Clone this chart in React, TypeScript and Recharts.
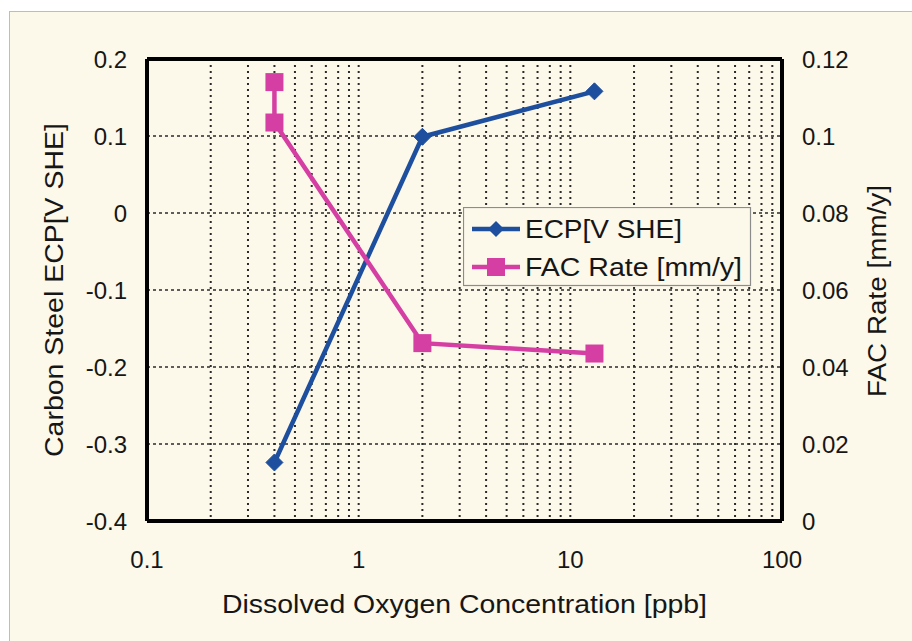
import React from 'react';
import { ComposedChart, Line, XAxis, YAxis, CartesianGrid, ReferenceLine, Legend } from 'recharts';

// ---- data ----
const ecpOxygen = [0.4, 2, 13];
const ecpValues = [-0.324, 0.099, 0.158];
const facOxygen = [0.4, 0.4, 2, 13];
const facValues = [0.114, 0.1035, 0.0462, 0.0435];

const xTicks = [
  0.1, 0.2, 0.3, 0.4, 0.5, 0.6, 0.7, 0.8, 0.9,
  1, 2, 3, 4, 5, 6, 7, 8, 9,
  10, 20, 30, 40, 50, 60, 70, 80, 90, 100,
];
const xTickLabels = ['0.1', '1', '10', '100'];
const leftTicks = [-0.4, -0.3, -0.2, -0.1, 0, 0.1, 0.2];
const rightTicks = [0, 0.02, 0.04, 0.06, 0.08, 0.1, 0.12];

const xTitle = 'Dissolved Oxygen Concentration [ppb]';
const leftTitle = 'Carbon Steel ECP[V SHE]';
const rightTitle = 'FAC Rate [mm/y]';
const ecpName = 'ECP[V SHE]';
const facName = 'FAC Rate [mm/y]';

const ecpData = ecpOxygen.map((x, i) => ({ x, y: ecpValues[i] }));
const facData = facOxygen.map((x, i) => ({ x, y: facValues[i] }));

// ---- style ----
const FONT = "'Liberation Sans', Arial, sans-serif";
const BG = '#fcf8ea';
const BLUE = '#1d4f9e';
const MAGENTA = '#d53fa3';
const TEXT = '#161616';

const Diamond = (props: any) => {
  const { cx, cy } = props;
  if (cx == null || cy == null) return null;
  const r = 8.5;
  return (
    <polygon
      points={`${cx},${cy - r} ${cx + r},${cy} ${cx},${cy + r} ${cx - r},${cy}`}
      fill={BLUE}
      stroke={BLUE}
      strokeWidth={1}
    />
  );
};

const Square = (props: any) => {
  const { cx, cy } = props;
  if (cx == null || cy == null) return null;
  const s = 18;
  return <rect x={cx - s / 2} y={cy - s / 2} width={s} height={s} fill={MAGENTA} />;
};

const renderLegend = () => (
  <svg width={289} height={80} style={{ display: 'block' }}>
    <rect x={0.5} y={0.5} width={287} height={78} fill={BG} stroke="#8c8c8c" strokeWidth={1.2} />
    <line x1={9} x2={57} y1={22} y2={22} stroke={BLUE} strokeWidth={4.5} />
    <polygon points="33,14 41,22 33,30 25,22" fill={BLUE} />
    <text x={62} y={31} fontFamily={FONT} fontSize={25} fill={TEXT} textLength={157} lengthAdjust="spacingAndGlyphs">
      {ecpName}
    </text>
    <line x1={9} x2={57} y1={60} y2={60} stroke={MAGENTA} strokeWidth={4.5} />
    <rect x={24} y={51} width={18} height={18} fill={MAGENTA} />
    <text x={62} y={69} fontFamily={FONT} fontSize={25} fill={TEXT} textLength={217} lengthAdjust="spacingAndGlyphs">
      {facName}
    </text>
  </svg>
);

export default function App() {
  return (
    <div style={{ position: 'absolute', left: 0, top: 0, width: 912, height: 641, background: '#ffffff', overflow: 'hidden' }}>
      <div
        style={{
          position: 'absolute',
          left: 9,
          top: 11,
          width: 920,
          height: 650,
          background: BG,
          borderLeft: '1.5px solid #d9b98c',
          borderTop: '1.5px solid #d9b98c',
        }}
      />
      <div style={{ position: 'absolute', left: 0, top: 0 }}>
        <ComposedChart width={912} height={641} margin={{ top: 59, right: 0, bottom: 0, left: 0 }}>
          <CartesianGrid
            yAxisId="left"
            vertical={false}
            stroke="#2a2a2a"
            strokeWidth={1.6}
            strokeDasharray="3 3"
          />
          <CartesianGrid
            yAxisId="left"
            horizontal={false}
            stroke="#2a2a2a"
            strokeWidth={2}
            strokeDasharray="2 4"
          />
          <XAxis
            type="number"
            dataKey="x"
            scale="log"
            domain={[0.1, 100]}
            ticks={xTicks}
            interval={0}
            allowDataOverflow
            height={120}
            tickLine={false}
            tickSize={0}
            tickMargin={30}
            axisLine={{ stroke: '#000', strokeWidth: 4 }}
            tick={{ fontFamily: FONT, fontSize: 24, fill: TEXT }}
            tickFormatter={(v: number) => {
              const s = String(v);
              return xTickLabels.includes(s) ? s : '';
            }}
            label={{
              content: () => (
                <text
                  x={464.5}
                  y={613}
                  textAnchor="middle"
                  fontFamily={FONT}
                  fontSize={25}
                  fill={TEXT}
                  textLength={485}
                  lengthAdjust="spacingAndGlyphs"
                >
                  {xTitle}
                </text>
              ),
            }}
          />
          <YAxis
            yAxisId="left"
            type="number"
            domain={[-0.4, 0.2]}
            ticks={leftTicks}
            interval={0}
            width={147}
            tickLine={false}
            tickSize={0}
            tickMargin={20}
            axisLine={{ stroke: '#000', strokeWidth: 4 }}
            tick={{ fontFamily: FONT, fontSize: 24, fill: TEXT }}
            label={{
              content: () => (
                <text
                  transform="translate(54,290) rotate(-90)"
                  x={0}
                  y={9}
                  textAnchor="middle"
                  fontFamily={FONT}
                  fontSize={25}
                  fill={TEXT}
                  textLength={334}
                  lengthAdjust="spacingAndGlyphs"
                >
                  {leftTitle}
                </text>
              ),
            }}
          />
          <YAxis
            yAxisId="right"
            orientation="right"
            type="number"
            domain={[0, 0.12]}
            ticks={rightTicks}
            interval={0}
            width={130}
            tickLine={false}
            tickSize={0}
            tickMargin={20}
            axisLine={{ stroke: '#000', strokeWidth: 4 }}
            tick={{ fontFamily: FONT, fontSize: 24, fill: TEXT }}
            label={{
              content: () => (
                <text
                  transform="translate(877,291) rotate(-90)"
                  x={0}
                  y={9}
                  textAnchor="middle"
                  fontFamily={FONT}
                  fontSize={25}
                  fill={TEXT}
                  textLength={212}
                  lengthAdjust="spacingAndGlyphs"
                >
                  {rightTitle}
                </text>
              ),
            }}
          />
          <ReferenceLine yAxisId="left" y={0.2} stroke="#000" strokeWidth={4} />
          <Line
            yAxisId="left"
            data={ecpData}
            dataKey="y"
            name={ecpName}
            stroke={BLUE}
            strokeWidth={4.5}
            dot={<Diamond />}
            activeDot={false}
            isAnimationActive={false}
          />
          <Line
            yAxisId="right"
            data={facData}
            dataKey="y"
            name={facName}
            stroke={MAGENTA}
            strokeWidth={4.5}
            dot={<Square />}
            activeDot={false}
            isAnimationActive={false}
          />
          <Legend
            layout="horizontal"
            verticalAlign="middle"
            align="center"
            content={renderLegend}
            wrapperStyle={{ position: 'absolute', left: 463, top: 207, width: 289, height: 80 }}
          />
        </ComposedChart>
      </div>
    </div>
  );
}
